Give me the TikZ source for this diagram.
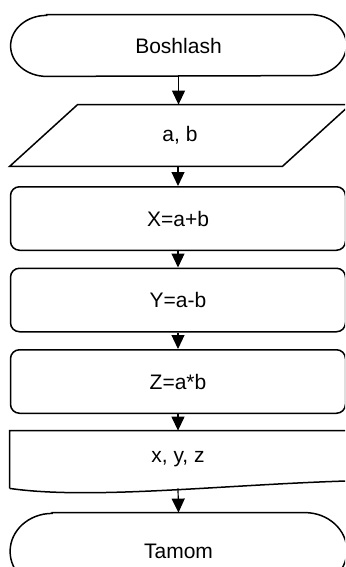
\documentclass[tikz,border=0pt]{standalone}
\usepackage{fontspec}
\setmainfont{Liberation Sans}
\usetikzlibrary{arrows.meta}

\begin{document}
\begin{tikzpicture}[x=0.5pt, y=-0.5pt,
    every node/.style={font=\fontsize{10.5}{12}\selectfont},
    outline/.style={line width=0.75pt},
    textbox/.style={rectangle, inner sep=0pt},
    procbox/.style={draw, rectangle, rounded corners=4.5pt, line width=0.75pt, minimum width=167.5pt, minimum height=31.75pt, inner sep=0pt},
    arr/.style={line width=0.6pt, -{Triangle[width=6.5pt, length=7pt]}}]
    \useasboundingbox (0,0) rectangle (345,567);
    \clip (0,0) rectangle (345,567);

    % 开始
    \node[textbox, minimum width=167.5pt, minimum height=30.5pt] (start) at (178.5,45.5) {Boshlash};
    \draw[outline] ([xshift=18pt]start.north west) -- ([xshift=-18pt]start.north east)
        arc[start angle=-90, end angle=90, x radius=36, y radius=30.5]
        -- ([xshift=18pt]start.south west)
        arc[start angle=90, end angle=270, x radius=36, y radius=30.5] -- cycle;

    % 输入
    \node[textbox, minimum width=170pt, minimum height=30.5pt] (ab) at (180,135.5) {a, b};
    \draw[outline] ([xshift=34pt]ab.north west) -- (ab.north east) -- ([xshift=-34pt]ab.south east) -- (ab.south west) -- cycle;

    % 计算
    \node[procbox] (sum) at (178,218.5) {X=a+b};
    \node[procbox] (diff) at (178,300) {Y=a-b};
    \node[procbox] (prod) at (178,381.5) {Z=a*b};

    % 输出
    \node[textbox, minimum width=168pt, minimum height=28.5pt] (xyz) at (178,459.5) {x, y, z};
    \draw[outline] (xyz.south west) -- (xyz.north west) -- (xyz.north east) -- (346,481)
        .. controls (220,485) and (90,500) .. (xyz.south west);

    % 结束
    \node[textbox, minimum width=168pt, minimum height=38pt] (stop) at (178.5,551) {Tamom};
    \draw[outline] ([xshift=21pt]stop.north west) -- ([xshift=-21pt]stop.north east)
        arc[start angle=-90, end angle=90, x radius=42, y radius=38]
        -- ([xshift=21pt]stop.south west)
        arc[start angle=90, end angle=270, x radius=42, y radius=38] -- cycle;

    % 箭头
    \draw[arr] (start.south) -- (start.south |- ab.north);
    \draw[arr] (sum.north |- ab.south) -- (sum.north);
    \draw[arr] (sum.south) -- (diff.north);
    \draw[arr] (diff.south) -- (prod.north);
    \draw[arr] (prod.south) -- (xyz.north);
    \draw[arr] (xyz.south) -- (stop.north);

\end{tikzpicture}
\end{document}
